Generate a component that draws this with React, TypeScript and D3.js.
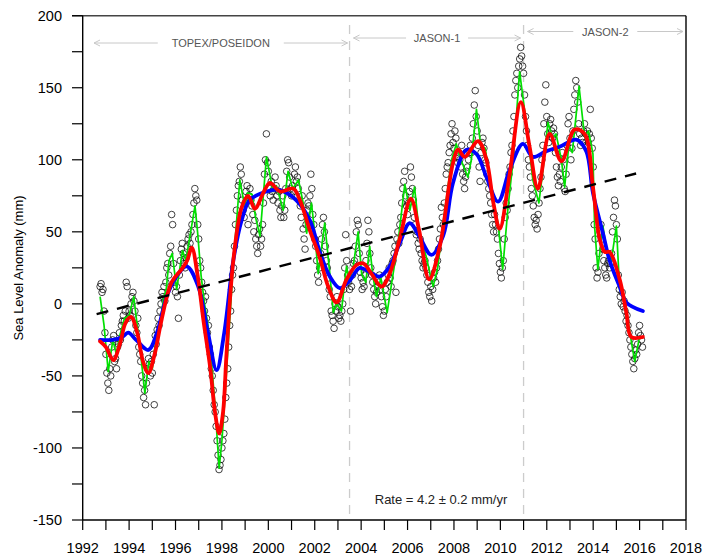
import React from "react";
import * as d3 from "d3";

// ---- data ----
const circleStart = 1992.75; // one value every half month
const circleValues: number[] = [
  12, 14, 8, 10, -5, -20, -35, -48, -55, -60, -45, -50, -30, -25, -22, -40, -38, -45, -30, -28, -20, -25, -15, -12,
  -8, -12, -5, 15, 12, -10, -5, -8, 0, 5, 8, 2, -5, -15, -20, -10, -30, -35, -40, -50, -55, -65, -60, -70,
  -55, -45, -38, -42, -50, -40, -48, -35, -70, -22, -28, -18, -10, -15, -5, 0, 8, 5, 12, 2, 15, 25, 28, 20,
  35, 40, 62, 55, 28, 15, 8, 12, 5, -10, 20, 30, 38, 42, 35, 28, 25, 32, 40, 45, 48, 42, 50, 55,
  62, 70, 80, 75, 72, 55, 45, 30, 25, 15, 8, 2, -5, 5, -10, -20, -15, -30, -35, -45, -50, -60, -70, -75,
  -85, -95, -105, -115, -112, -108, -100, -95, -90, -80, -65, -55, -45, -30, -15, -5, 10, 20, 25, 40, 55, 65, 75, 82,
  85, 95, 90, 72, 65, 60, 70, 78, 82, 55, 75, 80, 72, 68, 62, 50, 58, 45, 40, 35, 48, 52, 40, 45,
  55, 70, 90, 100, 118, 98, 92, 80, 75, 85, 78, 72, 80, 88, 82, 75, 70, 78, 65, 60, 68, 75, 60, 65,
  80, 92, 100, 98, 88, 80, 75, 82, 78, 90, 95, 85, 88, 80, 72, 68, 60, 75, 52, 45, 38, 55, 65, 70,
  68, 75, 90, 80, 62, 55, 45, 40, 30, 20, 15, 25, 35, 45, 55, 60, 50, 40, 30, 25, 18, 10, 5, -5,
  -8, -12, -17, 0, -5, 5, -2, -10, -8, -12, -5, 0, 10, 25, 48, 30, 20, 15, 10, -5, 12, 20, 28, 30,
  40, 50, 58, 55, 35, 22, 18, 10, 15, 12, 20, 30, 42, 58, 50, 35, 25, 20, 15, 10, 5, 0, 8, 12,
  15, 20, 10, 5, -2, -8, -5, 10, 5, 15, 20, 25, 18, 12, 28, 30, 35, 40, 8, 45, 50, 42, 55, 60,
  70, 80, 85, 92, 75, 68, 62, 70, 78, 95, 88, 80, 72, 60, 55, 48, 50, 42, 38, 45, 35, 30, 25, 28,
  30, 25, 20, 15, 8, 5, 12, 2, 10, 18, 22, 15, 25, 30, 38, 45, 52, 67, 60, 55, 70, 80, 90, 95,
  98, 105, 110, 118, 125, 112, 108, 120, 115, 102, 98, 105, 100, 95, 110, 90, 85, 80, 88, 92, 95, 100, 105, 110,
  105, 115, 125, 138, 148, 130, 120, 110, 95, 85, 105, 112, 115, 108, 100, 98, 90, 85, 80, 75, 70, 62, 55, 50,
  62, 55, 50, 45, 35, 28, 22, 18, 25, 30, 45, 60, 70, 65, 80, 90, 95, 105, 110, 120, 130, 145, 155, 160,
  150, 165, 170, 178, 172, 165, 160, 145, 130, 120, 110, 100, 95, 88, 80, 75, 68, 60, 55, 58, 52, 62, 70, 80,
  88, 100, 110, 125, 140, 152, 130, 118, 112, 125, 128, 120, 115, 122, 118, 105, 95, 88, 82, 90, 85, 95, 105, 100,
  80, 78, 90, 110, 125, 130, 115, 100, 108, 120, 135, 145, 155, 150, 140, 125, 118, 110, 115, 112, 120, 125, 118, 110,
  120, 112, 118, 135, 115, 108, 95, 55, 45, 25, 18, 22, 35, 50, 55, 45, 38, 30, 25, 20, 18, 28, 30, 25,
  28, 35, 50, 60, 72, 68, 55, 45, 20, 10, 5, 0, 8, -2, 2, -5, -12, -8, -15, -20, -25, -30, -35, -40,
  -45, -38, -32, -35, -28, -20, -15, -22, -25, -30,
];

const greenYears = [
  1992.75, 1992.92, 1993.1, 1993.3, 1993.45, 1993.6, 1993.8, 1994.0, 1994.2, 1994.35, 1994.5, 1994.68,
  1994.85, 1995.0, 1995.15, 1995.35, 1995.5, 1995.6, 1995.72, 1995.86, 1996.05, 1996.3, 1996.45, 1996.6,
  1996.84, 1996.95, 1997.1, 1997.25, 1997.4, 1997.55, 1997.7, 1997.88, 1998.0, 1998.15, 1998.3, 1998.5,
  1998.77, 1998.99, 1999.1, 1999.3, 1999.45, 1999.64, 1999.92, 2000.2, 2000.35, 2000.64, 2000.85, 2001.05,
  2001.3, 2001.5, 2001.65, 2001.86, 2002.0, 2002.15, 2002.43, 2002.65, 2002.8, 2002.95, 2003.15, 2003.37,
  2003.5, 2003.65, 2003.87, 2004.02, 2004.2, 2004.37, 2004.5, 2004.66, 2004.85, 2005.12, 2005.35, 2005.6,
  2005.88, 2006.1, 2006.3, 2006.5, 2006.8, 2007.1, 2007.3, 2007.53, 2007.9, 2008.1, 2008.3, 2008.6,
  2008.75, 2008.97, 2009.15, 2009.35, 2009.6, 2009.9, 2010.1, 2010.33, 2010.55, 2010.83, 2011.0, 2011.19,
  2011.4, 2011.66, 2011.85, 2012.05, 2012.25, 2012.4, 2012.63, 2012.77, 2012.95, 2013.1, 2013.39, 2013.63,
  2013.8, 2013.99, 2014.06, 2014.2, 2014.42, 2014.6, 2014.78, 2015.0, 2015.14, 2015.35, 2015.54, 2015.79,
  2016.0, 2016.14,
];
const greenValues = [
  5, -15, -47, -25, -35, -22, -10, -8, 5, -15, -35, -62,
  -40, -45, -25, -11, 5, 10, 30, 35, 10, 37, 30, 45,
  68, 50, 20, 0, -15, -40, -70, -114, -95, -60, -20, 30,
  86, 67, 77, 76, 60, 47, 102, 78, 82, 65, 92, 80,
  86, 70, 49, 70, 49, 21, 56, 21, -6, 0, -5, 26,
  15, 25, 50, 21, 15, 40, 20, 5, 18, -6, 18, 44,
  83, 65, 81, 50, 33, 12, 25, 56, 100, 111, 100, 88,
  100, 135, 110, 108, 79, 56, 24, 67, 100, 161, 140, 116,
  86, 70, 95, 126, 115, 118, 100, 81, 110, 105, 151, 116,
  120, 104, 54, 24, 54, 35, 30, 54, 10, 5, -16, -40,
  -23, -23,
];

const redYears = [
  1992.75, 1993.0, 1993.32, 1993.6, 1993.85, 1994.08, 1994.35, 1994.6, 1994.83, 1995.1, 1995.4, 1995.83,
  1996.26, 1996.5, 1996.7, 1996.95, 1997.2, 1997.5, 1997.7, 1997.88, 1998.05, 1998.2, 1998.49, 1998.85,
  1999.13, 1999.42, 1999.78, 2000.07, 2000.5, 2001.07, 2001.36, 2001.79, 2002.2, 2002.58, 2002.94, 2003.37,
  2003.8, 2004.1, 2004.44, 2004.88, 2005.23, 2005.66, 2006.14, 2006.5, 2006.93, 2007.39, 2007.96, 2008.18,
  2008.46, 2009.04, 2009.4, 2009.7, 2009.97, 2010.4, 2010.88, 2011.26, 2011.62, 2012.12, 2012.63, 2013.2,
  2013.63, 2013.99, 2014.28, 2014.5, 2014.71, 2015.14, 2015.43, 2015.64, 2016.14,
];
const redValues = [
  -26, -30, -39, -28, -13, -9, -20, -40, -48, -35, -11, 15,
  24, 30, 39, 20, -11, -45, -75, -90, -75, -34, 30, 67,
  75, 66, 77, 84, 78, 80, 72, 51, 33, 12, 1, 17,
  27, 28, 21, 12, 21, 45, 73, 51, 17, 40, 98, 107,
  102, 113, 100, 70, 52, 90, 140, 109, 80, 118, 99, 121,
  118, 81, 45, 36, 36, 17, -6, -23, -23,
];

const blueYears = [
  1992.75, 1993.3, 1993.7, 1993.96, 1994.3, 1994.83, 1995.2, 1995.62, 1996.0, 1996.48, 1996.98, 1997.4,
  1997.77, 1998.1, 1998.49, 1998.85, 1999.2, 1999.92, 2000.5, 2001.2, 2001.79, 2002.2, 2002.65, 2003.08,
  2003.5, 2003.94, 2004.37, 2004.8, 2005.23, 2005.66, 2006.09, 2006.5, 2007.03, 2007.53, 2007.96, 2008.54,
  2008.97, 2009.4, 2009.9, 2010.4, 2010.97, 2011.4, 2011.98, 2012.55, 2013.27, 2013.7, 2013.99, 2014.42,
  2014.71, 2015.14, 2015.43, 2016.14,
];
const blueValues = [
  -25, -25, -23, -20, -25, -32, -20, 5, 18, 26, 12, -20,
  -46, -20, 30, 58, 72, 78, 79, 72, 58, 37, 19, 11,
  16, 25, 22, 19, 26, 42, 56, 47, 34, 47, 84, 107,
  104, 88, 71, 93, 111, 102, 106, 109, 114, 106, 77, 49,
  30, 12, 1, -5,
];

const trendYears = [1992.6, 2015.85];
const trendValues = [-7.1, 90.5];

const missionBreaks = [2003.5, 2011.0];
const missionNames = ["TOPEX/POSEIDON", "JASON-1", "JASON-2"];

const xTickYears = d3.range(1992, 2019, 1);
const xLabelYears = d3.range(1992, 2019, 2);
const yTickValues = d3.range(-150, 201, 25);
const yLabelValues = d3.range(-150, 201, 50);

const rateLabel = "Rate = 4.2 \u00b1 0.2 mm/yr";
const yTitle = "Sea Level Anomaly (mm)";

// ---- chart ----
const W = 703;
const H = 559;
const L = 82.7;
const R = 686;
const T = 15.7;
const B = 520;
const FONT = "'Liberation Sans', Arial, Helvetica, sans-serif";

export default function App() {
  const x = d3.scaleLinear().domain([1992, 2018]).range([L, R]);
  const y = d3.scaleLinear().domain([-150, 200]).range([B, T]);

  const circles = circleValues.map((v, i) => ({ t: circleStart + i / 24, v }));

  const lineLinear = d3
    .line<[number, number]>()
    .x((d) => x(d[0]))
    .y((d) => y(d[1]));
  const lineSmooth = d3
    .line<[number, number]>()
    .x((d) => x(d[0]))
    .y((d) => y(d[1]))
    .curve(d3.curveCatmullRom.alpha(0.5));

  const zip = (a: number[], b: number[]) => a.map((t, i) => [t, b[i]] as [number, number]);
  const greenPath = lineLinear(zip(greenYears, greenValues)) || "";
  const redPath = lineSmooth(zip(redYears, redValues)) || "";
  const bluePath = lineSmooth(zip(blueYears, blueValues)) || "";
  const trendPath = lineLinear(zip(trendYears, trendValues)) || "";

  // mission annotations
  const arrowColor = "#c8c8c8";
  const textColor = "#555";
  const spans = [
    { name: missionNames[0], x0: 94, x1: x(missionBreaks[0]) - 2, yy: 43, tw: 118 },
    { name: missionNames[1], x0: x(missionBreaks[0]) + 4, x1: x(missionBreaks[1]) - 3, yy: 38, tw: 54 },
    { name: missionNames[2], x0: x(missionBreaks[1]) + 4, x1: 683, yy: 31.5, tw: 56 },
  ];

  return (
    <svg
      width={W}
      height={H}
      style={{ position: "absolute", left: 0, top: 0, background: "#fff" }}
      fontFamily={FONT}
    >
      <rect x={0} y={0} width={W} height={H} fill="#fff" />

      {/* mission break lines */}
      {missionBreaks.map((b) => (
        <line
          key={b}
          x1={x(b)}
          x2={x(b)}
          y1={25}
          y2={B}
          stroke="#cccccc"
          strokeWidth={1.3}
          strokeDasharray="9,7"
        />
      ))}

      {/* mission arrows */}
      {spans.map((s) => {
        const cx = (s.x0 + s.x1) / 2;
        const g0 = cx - s.tw / 2 - 4;
        const g1 = cx + s.tw / 2 + 4;
        return (
          <g key={s.name}>
            <line x1={s.x0} x2={g0} y1={s.yy} y2={s.yy} stroke={arrowColor} strokeWidth={1} />
            <line x1={g1} x2={s.x1} y1={s.yy} y2={s.yy} stroke={arrowColor} strokeWidth={1} />
            <polyline
              points={`${s.x0 + 6},${s.yy - 3} ${s.x0},${s.yy} ${s.x0 + 6},${s.yy + 3}`}
              fill="none"
              stroke={arrowColor}
              strokeWidth={1}
            />
            <polyline
              points={`${s.x1 - 6},${s.yy - 3} ${s.x1},${s.yy} ${s.x1 - 6},${s.yy + 3}`}
              fill="none"
              stroke={arrowColor}
              strokeWidth={1}
            />
            <text x={cx} y={s.yy + 4} textAnchor="middle" fontSize={11} fill={textColor}>
              {s.name}
            </text>
          </g>
        );
      })}

      {/* scatter */}
      <g fill="none" stroke="#111" strokeWidth={0.8}>
        {circles.map((c, i) => (
          <circle key={i} cx={x(c.t)} cy={y(c.v)} r={3.3} />
        ))}
      </g>

      <path d={greenPath} fill="none" stroke="#00e000" strokeWidth={1.7} strokeLinejoin="round" />
      <path d={bluePath} fill="none" stroke="#0000ff" strokeWidth={3.8} strokeLinecap="round" />
      <path d={redPath} fill="none" stroke="#ff0000" strokeWidth={3.8} strokeLinecap="round" />
      <path d={trendPath} fill="none" stroke="#000" strokeWidth={2.4} strokeDasharray="12,9" />

      <text x={441} y={504} textAnchor="middle" fontSize={13} fill="#222">
        {rateLabel}
      </text>

      {/* frame */}
      <line x1={72} x2={R} y1={T} y2={T} stroke="#444" strokeWidth={1.4} />
      <line x1={R} x2={R} y1={T} y2={B} stroke="#000" strokeWidth={1.4} />
      <line x1={L} x2={L} y1={T} y2={B} stroke="#000" strokeWidth={1.4} />
      <line x1={L} x2={R} y1={B} y2={B} stroke="#000" strokeWidth={1.4} />

      {/* y ticks */}
      {yTickValues.map((v) => (
        <line key={v} x1={72} x2={L} y1={y(v)} y2={y(v)} stroke="#000" strokeWidth={1.2} />
      ))}
      {yLabelValues.map((v) => (
        <text key={v} x={62} y={y(v) + 5} textAnchor="end" fontSize={14.5} fill="#000">
          {v}
        </text>
      ))}

      {/* x ticks */}
      {xTickYears.map((t) => (
        <line key={t} x1={x(t)} x2={x(t)} y1={B} y2={B + 10} stroke="#000" strokeWidth={1.2} />
      ))}
      {xLabelYears.map((t) => (
        <text key={t} x={x(t)} y={553} textAnchor="middle" fontSize={14.5} fill="#000">
          {t}
        </text>
      ))}

      <text
        transform={`translate(23,268) rotate(-90)`}
        textAnchor="middle"
        fontSize={13}
        fill="#000"
      >
        {yTitle}
      </text>
    </svg>
  );
}
